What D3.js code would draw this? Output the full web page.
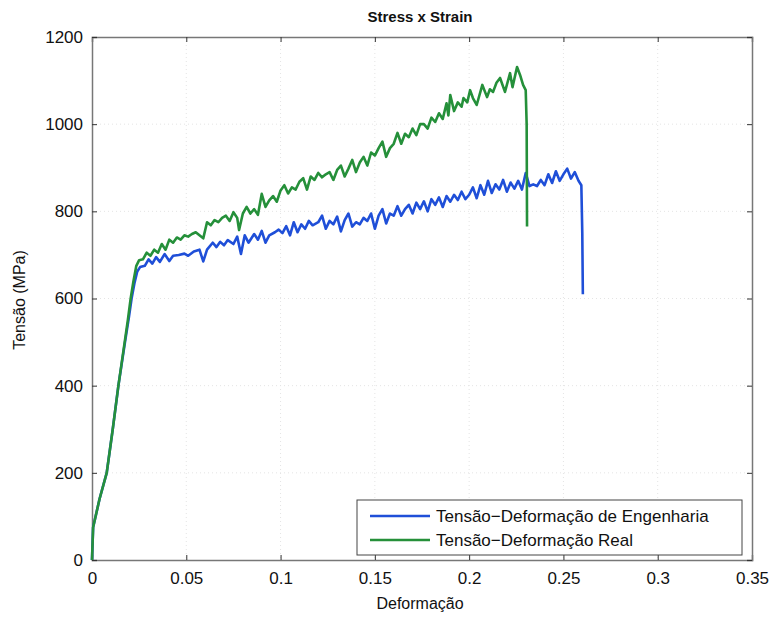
<!DOCTYPE html>
<html>
<head>
<meta charset="utf-8">
<script src="https://cdn.jsdelivr.net/npm/d3@7"></script>
<style>
  body { margin: 0; background: #fff; }
  svg text { font-family: "Liberation Sans", Arial, sans-serif; fill: #111; }
</style>
</head>
<body>
<div id="chart"></div>
<script>
// Engineering stress-strain (blue)
const engStrain = [0, 0.0006, 0.004, 0.0078, 0.011, 0.014, 0.0175, 0.0195, 0.021, 0.0225, 0.024, 0.0255,
  0.028, 0.030, 0.032, 0.034, 0.036, 0.0385, 0.041, 0.043, 0.046, 0.049, 0.051, 0.054, 0.057, 0.059,
  0.061, 0.064, 0.066, 0.068, 0.070, 0.072, 0.075, 0.077, 0.079, 0.081, 0.083, 0.086, 0.088, 0.090,
  0.092, 0.094, 0.097, 0.099, 0.101, 0.103, 0.105, 0.107, 0.109, 0.111, 0.113, 0.115, 0.117, 0.120,
  0.122, 0.124, 0.126, 0.128, 0.130, 0.132, 0.134, 0.136, 0.138, 0.140, 0.142, 0.144, 0.146, 0.148,
  0.150, 0.152, 0.154, 0.156, 0.158, 0.160, 0.162, 0.164, 0.166, 0.168, 0.170, 0.172, 0.174, 0.176,
  0.178, 0.180, 0.182, 0.184, 0.186, 0.188, 0.190, 0.192, 0.194, 0.196, 0.198, 0.200, 0.202, 0.204,
  0.206, 0.208, 0.210, 0.212, 0.214, 0.216, 0.218, 0.220, 0.222, 0.224, 0.226, 0.228, 0.230, 0.232,
  0.234, 0.236, 0.238, 0.240, 0.242, 0.244, 0.246, 0.248, 0.250, 0.252, 0.254, 0.256, 0.258, 0.2595,
  0.2600, 0.2603];
const engStress = [0, 75, 140, 200, 300, 400, 500, 555, 600, 635, 662, 672,
  675, 690, 680, 695, 684, 702, 686, 698, 700, 703, 698, 708, 712, 685,
  712, 728, 718, 730, 722, 734, 725, 742, 702, 745, 728, 748, 735, 755,
  728, 745, 752, 758, 750, 766, 745, 775, 752, 770, 760, 778, 768, 775,
  790, 760, 778, 770, 788, 754, 780, 795, 765, 775, 770, 785, 778, 795,
  760, 790, 805, 772, 795, 790, 812, 790, 805, 815, 795, 820, 805, 823,
  800, 828, 815, 832, 810, 835, 822, 838, 826, 845, 828, 838, 855, 830,
  860, 838, 870, 842, 862, 850, 872, 845, 866, 852, 870, 850, 888, 858,
  862, 858, 872, 860, 885, 865, 892, 870, 885, 898, 875, 890, 870, 860,
  750, 610];

// True (real) stress-strain (green)
const realStrain = [0, 0.0006, 0.004, 0.0078, 0.011, 0.014, 0.0175, 0.019, 0.0205, 0.022, 0.0235, 0.025,
  0.027, 0.029, 0.031, 0.033, 0.035, 0.037, 0.039, 0.041, 0.043, 0.045, 0.047, 0.049, 0.051, 0.053,
  0.055, 0.057, 0.059, 0.061, 0.063, 0.065, 0.067, 0.069, 0.071, 0.073, 0.075, 0.077, 0.078, 0.080,
  0.082, 0.084, 0.086, 0.088, 0.090, 0.092, 0.094, 0.096, 0.098, 0.100, 0.102, 0.104, 0.106, 0.108,
  0.110, 0.112, 0.114, 0.116, 0.118, 0.120, 0.122, 0.124, 0.126, 0.128, 0.130, 0.132, 0.134, 0.136,
  0.138, 0.140, 0.142, 0.144, 0.146, 0.148, 0.150, 0.152, 0.154, 0.156, 0.158, 0.160, 0.162, 0.164,
  0.166, 0.168, 0.170, 0.172, 0.174, 0.176, 0.178, 0.180, 0.182, 0.184, 0.186, 0.188, 0.189, 0.190,
  0.192, 0.194, 0.196, 0.197, 0.199, 0.2005, 0.202, 0.204, 0.207, 0.2095, 0.211, 0.2127, 0.2145, 0.2164,
  0.219, 0.2217, 0.223, 0.2254, 0.227, 0.2286, 0.2300, 0.2305, 0.2307];
const realStress = [0, 75, 140, 200, 300, 400, 505, 550, 600, 640, 675, 688,
  690, 705, 698, 712, 705, 725, 712, 735, 728, 740, 735, 745, 742, 748,
  752, 745, 738, 775, 768, 780, 775, 785, 790, 778, 798, 785, 757, 795,
  810, 795, 805, 792, 840, 810, 825, 835, 822, 848, 860, 841, 855, 850,
  868, 876, 850, 880, 872, 888, 878, 885, 890, 872, 895, 905, 880, 898,
  918, 890, 912, 925, 905, 935, 928, 945, 960, 925, 945, 955, 980, 955,
  978, 970, 990, 975, 1000, 1000, 990, 1015, 1005, 1025, 1012, 1048, 1020, 1067,
  1030, 1050, 1040, 1060, 1050, 1078, 1060, 1044, 1090, 1062, 1080, 1074, 1095, 1106,
  1074, 1117, 1085, 1131, 1113, 1090, 1078, 1000, 765];

const xTicks = [0, 0.05, 0.1, 0.15, 0.2, 0.25, 0.3, 0.35];
const yTicks = [0, 200, 400, 600, 800, 1000, 1200];
const seriesNames = ["Tensão\u2212Deformação de Engenharia", "Tensão\u2212Deformação Real"];
const seriesColors = ["#1f4fd8", "#25903a"];

const width = 774, height = 617;
const margin = { left: 92, right: 22, top: 37, bottom: 57 };

const svg = d3.select("#chart").append("svg")
  .attr("width", width)
  .attr("height", height);

const x = d3.scaleLinear().domain([0, 0.35]).range([margin.left, width - margin.right]);
const y = d3.scaleLinear().domain([0, 1200]).range([height - margin.bottom, margin.top]);

// faint dotted grid
const grid = svg.append("g");
grid.selectAll("line.gx").data(xTicks.slice(1, -1)).enter().append("line")
  .attr("x1", d => x(d)).attr("x2", d => x(d))
  .attr("y1", y(1200)).attr("y2", y(0))
  .attr("stroke", "#e4e4e4").attr("stroke-dasharray", "1,3");
grid.selectAll("line.gy").data(yTicks.slice(1, -1)).enter().append("line")
  .attr("y1", d => y(d)).attr("y2", d => y(d))
  .attr("x1", x(0)).attr("x2", x(0.35))
  .attr("stroke", "#e4e4e4").attr("stroke-dasharray", "1,3");

// axes (ticks pointing inward)
const xAxis = svg.append("g")
  .attr("transform", `translate(0,${y(0)})`)
  .call(d3.axisBottom(x).tickValues(xTicks).tickSize(-5).tickPadding(12).tickFormat(d => String(d)));
const xAxisTop = svg.append("g")
  .attr("transform", `translate(0,${y(1200)})`)
  .call(d3.axisTop(x).tickValues(xTicks).tickSize(-5).tickFormat(""));
const yAxis = svg.append("g")
  .attr("transform", `translate(${x(0)},0)`)
  .call(d3.axisLeft(y).tickValues(yTicks).tickSize(-5).tickPadding(9).tickFormat(d3.format("d")));
const yAxisRight = svg.append("g")
  .attr("transform", `translate(${x(0.35)},0)`)
  .call(d3.axisRight(y).tickValues(yTicks).tickSize(-5).tickFormat(""));

[xAxis, xAxisTop, yAxis, yAxisRight].forEach(g => {
  g.select(".domain").attr("stroke", "#777").attr("stroke-width", 1.5);
  g.selectAll(".tick line").attr("stroke", "#333");
  g.selectAll(".tick text").style("font-size", "17px").attr("fill", "#111");
});

// curves
const line = d3.line().x(d => x(d[0])).y(d => y(d[1]));
const engData = engStrain.map((s, i) => [s, engStress[i]]);
const realData = realStrain.map((s, i) => [s, realStress[i]]);

svg.append("path").datum(engData)
  .attr("d", line).attr("fill", "none")
  .attr("stroke", seriesColors[0]).attr("stroke-width", 2.6)
  .attr("stroke-linejoin", "round");
svg.append("path").datum(realData)
  .attr("d", line).attr("fill", "none")
  .attr("stroke", seriesColors[1]).attr("stroke-width", 2.6)
  .attr("stroke-linejoin", "round");

// title and labels
svg.append("text")
  .attr("x", 420).attr("y", 22)
  .attr("text-anchor", "middle")
  .style("font-size", "15px").style("font-weight", "bold")
  .text("Stress x Strain");

svg.append("text")
  .attr("x", 420).attr("y", 609)
  .attr("text-anchor", "middle")
  .style("font-size", "16px")
  .text("Deformação");

svg.append("text")
  .attr("transform", "translate(25,300) rotate(-90)")
  .attr("text-anchor", "middle")
  .style("font-size", "16px")
  .text("Tensão (MPa)");

// legend
const legend = svg.append("g").attr("transform", "translate(357,500)");
legend.append("rect")
  .attr("width", 385).attr("height", 55)
  .attr("fill", "#fff").attr("stroke", "#444").attr("stroke-width", 1);
seriesNames.forEach((name, i) => {
  const row = legend.append("g").attr("transform", `translate(0,${16 + i * 24})`);
  row.append("line")
    .attr("x1", 13).attr("x2", 73)
    .attr("stroke", seriesColors[i]).attr("stroke-width", 2.6);
  row.append("text")
    .attr("x", 79).attr("y", 6)
    .style("font-size", "17px")
    .text(name);
});
</script>
</body>
</html>
